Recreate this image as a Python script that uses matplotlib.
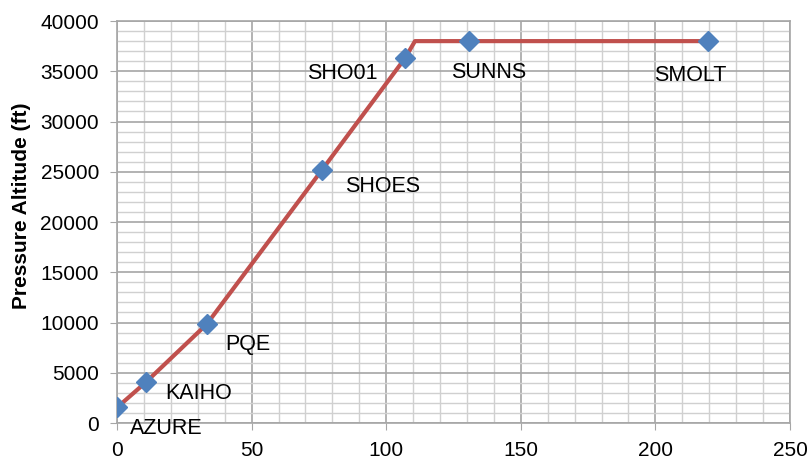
import matplotlib.pyplot as plt
from matplotlib.ticker import MultipleLocator

plt.rcParams['font.family'] = ['Liberation Sans', 'DejaVu Sans']

# Waypoints: distance (x) and pressure altitude in ft
names = ['AZURE', 'KAIHO', 'PQE', 'SHOES', 'SHO01', 'SUNNS', 'SMOLT']
dist = [0.1, 10.7, 33.4, 76.2, 107, 130.8, 219.5]
alt = [1560, 4050, 9850, 25200, 36300, 38000, 38000]

# flight path including the top of climb (no marker there)
path_x = [0.1, 10.7, 33.4, 76.2, 107, 110.7, 130.8, 219.5]
path_y = [1560, 4050, 9850, 25200, 36300, 38000, 38000, 38000]

# label offsets in pixels (dx, dy, horizontal alignment)
offsets = [(13, -21, 'left'), (19, -11, 'left'), (18, -20, 'left'),
           (23, -17, 'left'), (-27, -15, 'right'), (20, -31, 'center'),
           (-18, -34, 'center')]

fig = plt.figure(figsize=(8.09, 4.62), dpi=100)
ax = fig.add_axes([0.1446, 0.0844, 0.8319, 0.8701])

ax.plot(path_x, path_y, color='#c0504d', linewidth=3, solid_capstyle='round',
        solid_joinstyle='round', zorder=3)
ax.plot(dist, alt, linestyle='none', marker='D', markersize=10.5,
        color='#4f81bd', zorder=4)

for n, x, y, (dx, dy, ha) in zip(names, dist, alt, offsets):
    ax.annotate(n, (x, y), xytext=(dx, dy), textcoords='offset pixels',
                ha=ha, va='center', fontsize=15.5, color='black')

ax.set_xlim(0, 250)
ax.set_ylim(0, 40000)
ax.xaxis.set_major_locator(MultipleLocator(50))
ax.xaxis.set_minor_locator(MultipleLocator(10))
ax.yaxis.set_major_locator(MultipleLocator(5000))
ax.yaxis.set_minor_locator(MultipleLocator(1000))

ax.grid(which='major', color='#a6a6a6', linewidth=1.2)
ax.grid(which='minor', color='#d0d0d0', linewidth=1.0)
ax.set_axisbelow(True)

for s in ax.spines.values():
    s.set_color('#a6a6a6')
    s.set_linewidth(1.2)

ax.tick_params(which='major', length=5, color='#a6a6a6', labelsize=15, pad=8)
ax.tick_params(which='minor', length=0)

ax.set_ylabel('Pressure Altitude (ft)', fontsize=15, fontweight='bold')
ax.yaxis.set_label_coords(-0.128, 0.54)

fig.savefig('out.png', dpi=100)
